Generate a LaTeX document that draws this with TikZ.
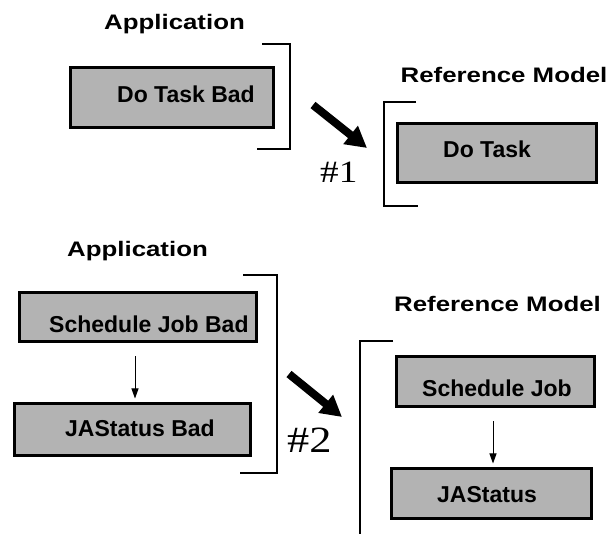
\documentclass[tikz,border=0pt]{standalone}
\usepackage{fontspec}
\usetikzlibrary{arrows.meta}
\newfontfamily\lblfont{Liberation Sans}[FakeStretch=1.23]
\newfontfamily\boxfont{Liberation Sans}
\newfontfamily\hashfont{Liberation Serif}[FakeStretch=1.2]
\definecolor{boxgray}{RGB}{179,179,179}
\begin{document}
\begin{tikzpicture}[x=1pt,y=-1pt,
  box/.style={draw=black,fill=boxgray,line width=3pt,inner sep=0pt,outer sep=0pt},
  lbl/.style={anchor=base west,inner sep=0pt,font=\lblfont\bfseries\fontsize{21}{25}\selectfont},
  boxtxt/.style={anchor=base west,inner sep=0pt,font=\boxfont\bfseries\fontsize{23}{27}\selectfont},
  hashtxt/.style={anchor=base west,inner sep=0pt},
  brk/.style={draw=black,line width=2.5pt},
  thinarrow/.style={draw=black,line width=1pt,-{Triangle[length=10pt,width=7pt]}},
  thickarrow/.style={draw=black,line width=8pt,-{Triangle[length=21pt,width=22pt]}}]
\useasboundingbox (0,0) rectangle (611,534);

% boxes
\node[box,minimum width=203pt,minimum height=60pt] (b1) at (172,97.5) {};
\node[box,minimum width=199pt,minimum height=59pt] (b2) at (497,153) {};
\node[box,minimum width=237pt,minimum height=49pt] (b3) at (138,317) {};
\node[box,minimum width=236pt,minimum height=52pt] (b4) at (132.5,429.5) {};
\node[box,minimum width=198pt,minimum height=50pt] (b5) at (495.5,381.5) {};
\node[box,minimum width=200pt,minimum height=50pt] (b6) at (491.5,493.5) {};

% box texts
\node[boxtxt] (t1) at (117,103) {Do Task Bad};
\node[boxtxt] (t2) at (443,158) {Do Task};
\node[boxtxt] (t3) at (49,333) {Schedule Job Bad};
\node[boxtxt] (t4) at (65,437) {JAStatus Bad};
\node[boxtxt] (t5) at (422,397) {Schedule Job};
\node[boxtxt] (t6) at (437,503) {JAStatus};

% labels
\node[lbl] (l1) at (104,30) {Application};
\node[lbl] (l2) at (400.5,83) {Reference Model};
\node[lbl] (l3) at (67,257) {Application};
\node[lbl] (l4) at (394,312) {Reference Model};
\node[hashtxt,font=\hashfont\fontsize{31}{35}\selectfont] (h1) at (320,183) {\#1};
\node[hashtxt,font=\hashfont\fontsize{37}{41}\selectfont] (h2) at (287,453) {\#2};

% brackets
\draw[brk] (262,44) -- (290,44) -- (290,149) -- (257,149);
\draw[brk] (416,102) -- (384,102) -- (384,206) -- (418,206);
\draw[brk] (243,275) -- (277,275) -- (277,473) -- (240,473);
\draw[brk] (393,341) -- (360,341) -- (360,534);

% thin arrows
\draw[thinarrow] ([xshift=-3pt,yshift=-15pt]b3.south) -- ([xshift=2.5pt,yshift=5pt]b4.north);
\draw[thinarrow] ([xshift=-2.5pt,yshift=-15pt]b5.south) -- ([xshift=1.5pt,yshift=5pt]b6.north);

% thick arrows
\coordinate (k1s) at (313,105);
\coordinate (k1e) at (367,148);
\coordinate (k2s) at (289,374);
\coordinate (k2e) at (342,417);
\draw[thickarrow] (k1s) -- (k1e);
\draw[thickarrow] (k2s) -- (k2e);
\end{tikzpicture}
\end{document}
